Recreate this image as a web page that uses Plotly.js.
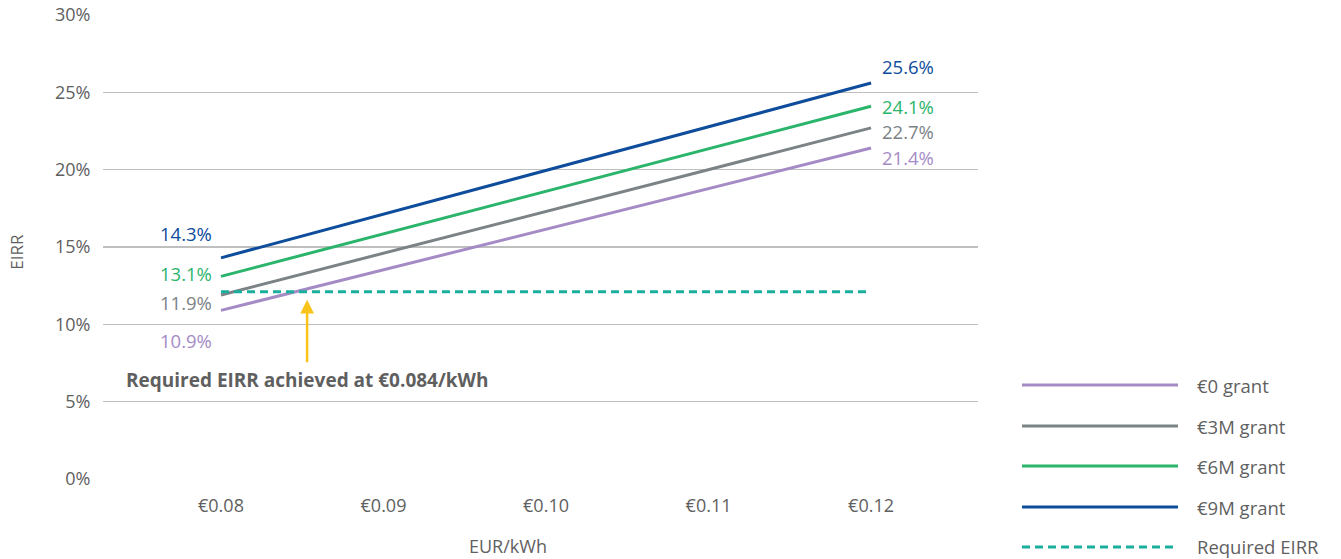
<!DOCTYPE html>
<html><head><meta charset="utf-8">
<script src="https://cdn.plot.ly/plotly-3.0.1.min.js"></script>
<style>body{margin:0;padding:0;background:#fff}#chart{width:1341px;height:559px}</style>
</head><body><div id="chart"></div>
<script>
const prices = [0.08, 0.12];
const tickVals = [0.08, 0.09, 0.10, 0.11, 0.12];
const tickText = ['€0.08', '€0.09', '€0.10', '€0.11', '€0.12'];
const seriesNames = ['€0 grant', '€3M grant', '€6M grant', '€9M grant'];
const grant0 = [10.9, 21.4];
const grant3 = [11.9, 22.7];
const grant6 = [13.1, 24.1];
const grant9 = [14.3, 25.6];
const requiredEIRR = [12.1, 12.1];
const requiredName = 'Required EIRR';
const achievedPrice = 0.0853;
const achievedText = 'Required EIRR achieved at €0.084/kWh';

const colors = ['#A58BC6', '#7B8387', '#2BB46B', '#0E4D9C'];
const reqColor = '#1AAE9D';
const txtColor = '#5f5f5f';
const allSeries = [grant0, grant3, grant6, grant9];

const traces = allSeries.map((s, i) => ({
  x: prices, y: s, type: 'scatter', mode: 'lines', name: seriesNames[i],
  line: {color: colors[i], width: 3}, showlegend: false, hoverinfo: 'skip'
}));
traces.push({x: prices, y: requiredEIRR, type: 'scatter', mode: 'lines', name: requiredName,
  line: {color: reqColor, width: 3, dash: '8px,5px'}, showlegend: false, hoverinfo: 'skip'});

const fontMain = 'Open Sans, Noto Sans, sans-serif';
const annotations = [];
allSeries.forEach((s, i) => {
  annotations.push({x: prices[0], y: s[0], xref: 'x', yref: 'y', text: s[0].toFixed(1) + '%',
    showarrow: false, xanchor: 'right', yanchor: 'middle', xshift: -8, borderpad: 0,
    yshift: [-30, -8, 3, 24][i], font: {family: fontMain, size: 18.5, color: colors[i]}});
  annotations.push({x: prices[1], y: s[1], xref: 'x', yref: 'y', text: s[1].toFixed(1) + '%',
    showarrow: false, xanchor: 'left', yanchor: 'middle', xshift: 10, borderpad: 0,
    yshift: [-9, -4, 0, 17][i], font: {family: fontMain, size: 18.5, color: colors[i]}});
});
// arrow
annotations.push({x: achievedPrice, y: requiredEIRR[0], xref: 'x', yref: 'y', ax: 0, ay: 72,
  showarrow: true, arrowhead: 2, arrowsize: 1.1, arrowwidth: 2.5, arrowcolor: '#F9C31A',
  standoff: 8, text: ''});
annotations.push({x: achievedPrice, y: requiredEIRR[0], xref: 'x', yref: 'y', showarrow: false,
  text: '<b>' + achievedText + '</b>', yshift: -88, xanchor: 'center', yanchor: 'middle',
  font: {family: 'Open Sans, sans-serif', size: 19, color: txtColor}});
// axis titles
annotations.push({xref: 'paper', yref: 'paper', x: 0.463, y: 0, yshift: -67, showarrow: false,
  text: 'EUR/kWh', xanchor: 'center', yanchor: 'middle', borderpad: 0,
  font: {family: fontMain, size: 18, color: txtColor}});
annotations.push({xref: 'paper', yref: 'paper', x: 0, xshift: -86, y: 0.49, showarrow: false,
  text: 'EIRR', textangle: -90, xanchor: 'center', yanchor: 'middle',
  font: {family: fontMain, size: 17, color: txtColor}});

// custom legend
const legendNames = seriesNames.concat([requiredName]);
const legendColors = colors.concat([reqColor]);
const shapes = [];
const legY = [385, 426, 466, 507, 547];
legendNames.forEach((n, i) => {
  const yp = 1 - (legY[i] - 15) / 464;
  shapes.push({type: 'line', xref: 'paper', yref: 'paper', x0: (1022 - 103) / 875, x1: (1178 - 103) / 875,
    y0: yp, y1: yp, line: {color: legendColors[i], width: 3, dash: i === 4 ? '8px,5px' : 'solid'}});
  annotations.push({xref: 'paper', yref: 'paper', x: (1196 - 103) / 875, y: yp, showarrow: false,
    xanchor: 'left', yanchor: 'middle', text: n, borderpad: 0, yshift: i === 4 ? 1 : 0,
    font: {family: fontMain, size: 18.5, color: txtColor}});
});

const layout = {
  width: 1341, height: 559,
  margin: {l: 103, r: 363, t: 15, b: 80},
  paper_bgcolor: '#fff', plot_bgcolor: '#fff',
  showlegend: false,
  xaxis: {range: [0.07274, 0.12658], tickvals: tickVals, ticktext: tickText, showgrid: false,
    zeroline: false, showline: false, ticks: 'outside', ticklen: 10, tickcolor: 'rgba(0,0,0,0)',
    tickfont: {family: fontMain, size: 18, color: txtColor}},
  yaxis: {range: [0, 30], tickvals: [0, 5, 10, 15, 20, 25, 30], ticktext: ['0%', '5%', '10%', '15%', '20%', '25%', '30%'],
    showgrid: true, gridcolor: '#BFBFBF', gridwidth: 1.5, zeroline: false, showline: false,
    ticks: 'outside', ticklen: 8, tickcolor: 'rgba(0,0,0,0)',
    tickfont: {family: fontMain, size: 18, color: txtColor}},
  annotations: annotations,
  shapes: shapes
};
Plotly.newPlot('chart', traces, layout, {displayModeBar: false, staticPlot: true});
</script></body></html>
